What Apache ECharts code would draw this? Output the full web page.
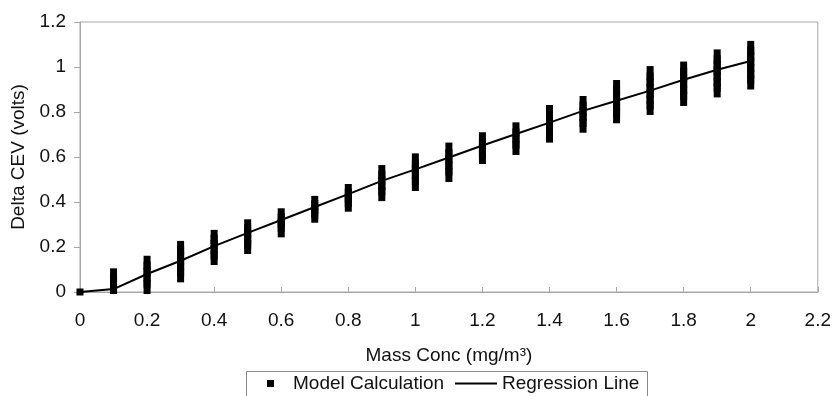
<!DOCTYPE html>
<html>
<head>
<meta charset="utf-8">
<script src="https://cdn.jsdelivr.net/npm/echarts@6/dist/echarts.min.js"></script>
<style>
html,body{margin:0;padding:0;background:#fff;}
#chart{width:834px;height:396px;}
</style>
</head>
<body>
<div id="chart"></div>
<script>
// x positions (Mass Conc, mg/m3)
const xValues = [0, 0.1, 0.2, 0.3, 0.4, 0.5, 0.6, 0.7, 0.8, 0.9, 1.0, 1.1, 1.2, 1.3, 1.4, 1.5, 1.6, 1.7, 1.8, 1.9, 2.0];
// Model Calculation points (Delta CEV, volts) at each x
const modelValues = [
  [0],
  [0.022, 0.048, 0.074],
  [0.022, 0.05, 0.077, 0.104, 0.13],
  [0.074, 0.1, 0.125, 0.15, 0.173, 0.196],
  [0.151, 0.175, 0.2, 0.223, 0.245],
  [0.2, 0.223, 0.246, 0.27, 0.292],
  [0.274, 0.297, 0.32, 0.341],
  [0.339, 0.358, 0.377, 0.396],
  [0.388, 0.408, 0.429, 0.449],
  [0.435, 0.46, 0.484, 0.508, 0.533],
  [0.48, 0.506, 0.532, 0.558, 0.585],
  [0.52, 0.548, 0.576, 0.604, 0.633],
  [0.60, 0.626, 0.652, 0.679],
  [0.64, 0.668, 0.696, 0.723],
  [0.695, 0.72, 0.746, 0.772, 0.80],
  [0.739, 0.764, 0.79, 0.815, 0.84],
  [0.781, 0.807, 0.833, 0.859, 0.885, 0.911],
  [0.818, 0.843, 0.868, 0.893, 0.918, 0.945, 0.973],
  [0.858, 0.885, 0.912, 0.939, 0.966, 0.993],
  [0.896, 0.921, 0.946, 0.971, 0.996, 1.021, 1.047],
  [0.931, 0.957, 0.983, 1.008, 1.034, 1.06, 1.085]
];
// Regression Line values at each x
const regressionValues = [0, 0.013, 0.08, 0.139, 0.204, 0.263, 0.32, 0.378, 0.435, 0.494, 0.545, 0.598, 0.651, 0.702, 0.753, 0.805, 0.85, 0.895, 0.943, 0.988, 1.027];

const xTicks = {min: 0, max: 2.2, interval: 0.2};
const yTicks = {min: 0, max: 1.2, interval: 0.2};

const scatterData = [];
xValues.forEach((x, i) => modelValues[i].forEach(v => scatterData.push([x, v])));
const lineData = xValues.map((x, i) => [x, regressionValues[i]]);

const FONT = "'Liberation Sans', Arial, sans-serif";
const GRAY = '#a8a8a8';
const FS = 19;
const fmt = v => String(+v.toFixed(1));

const chart = echarts.init(document.getElementById('chart'), null, {renderer: 'canvas'});
chart.setOption({
  animation: false,
  backgroundColor: '#fff',
  textStyle: {fontFamily: FONT},
  grid: {left: 80, right: 16, top: 22, bottom: 104, show: true, borderColor: GRAY, borderWidth: 1, containLabel: false},
  xAxis: {
    type: 'value', min: xTicks.min, max: xTicks.max, interval: xTicks.interval,
    name: 'Mass Conc (mg/m³)', nameLocation: 'middle', nameGap: 54,
    nameTextStyle: {fontFamily: FONT, fontSize: FS, color: '#111'},
    axisLine: {show: true, lineStyle: {color: GRAY, width: 1}},
    axisTick: {show: true, inside: true, length: 5, lineStyle: {color: GRAY}},
    axisLabel: {fontFamily: FONT, fontSize: FS, color: '#111', margin: 19, formatter: fmt},
    splitLine: {show: false}
  },
  yAxis: {
    type: 'value', min: yTicks.min, max: yTicks.max, interval: yTicks.interval,
    name: 'Delta CEV (volts)', nameLocation: 'middle', nameGap: 47, nameRotate: 90,
    nameTextStyle: {fontFamily: FONT, fontSize: FS, color: '#111'},
    axisLine: {show: true, lineStyle: {color: GRAY, width: 1}},
    axisTick: {show: true, inside: false, length: 6, lineStyle: {color: GRAY}},
    axisLabel: {fontFamily: FONT, fontSize: FS, color: '#111', margin: 14, formatter: fmt},
    splitLine: {show: false}
  },
  legend: [
    {
      left: 267, top: 374, padding: 0,
      itemWidth: 7, itemHeight: 7,
      itemStyle: {borderWidth: 0},
      textStyle: {fontFamily: FONT, fontSize: FS, color: '#111', padding: [0, 0, 0, 14]},
      data: [{name: 'Model Calculation', icon: 'rect'}]
    },
    {
      left: 455, top: 374, padding: 0,
      itemWidth: 42, itemHeight: 7,
      textStyle: {fontFamily: FONT, fontSize: FS, color: '#111'},
      data: [{name: 'Regression Line', icon: 'path://M0 0H42V2H0Z'}]
    }
  ],
  graphic: [{
    type: 'rect', left: 244, top: 369, silent: true,
    shape: {width: 401, height: 40},
    style: {fill: 'none', stroke: '#8a8a8a', lineWidth: 1}
  }],
  series: [
    {
      name: 'Model Calculation', type: 'scatter', data: scatterData,
      symbol: 'rect',
      symbolSize: (val) => (val[0] === 0 ? [7, 7] : [7, 14]),
      itemStyle: {color: '#000', opacity: 1, borderWidth: 0},
      z: 2,
      emphasis: {disabled: true}
    },
    {
      name: 'Regression Line', type: 'line', data: lineData,
      symbol: 'none', showSymbol: false,
      lineStyle: {color: '#000', width: 2}, itemStyle: {color: '#000'}, z: 3,
      emphasis: {disabled: true}
    }
  ]
});
</script>
</body>
</html>
